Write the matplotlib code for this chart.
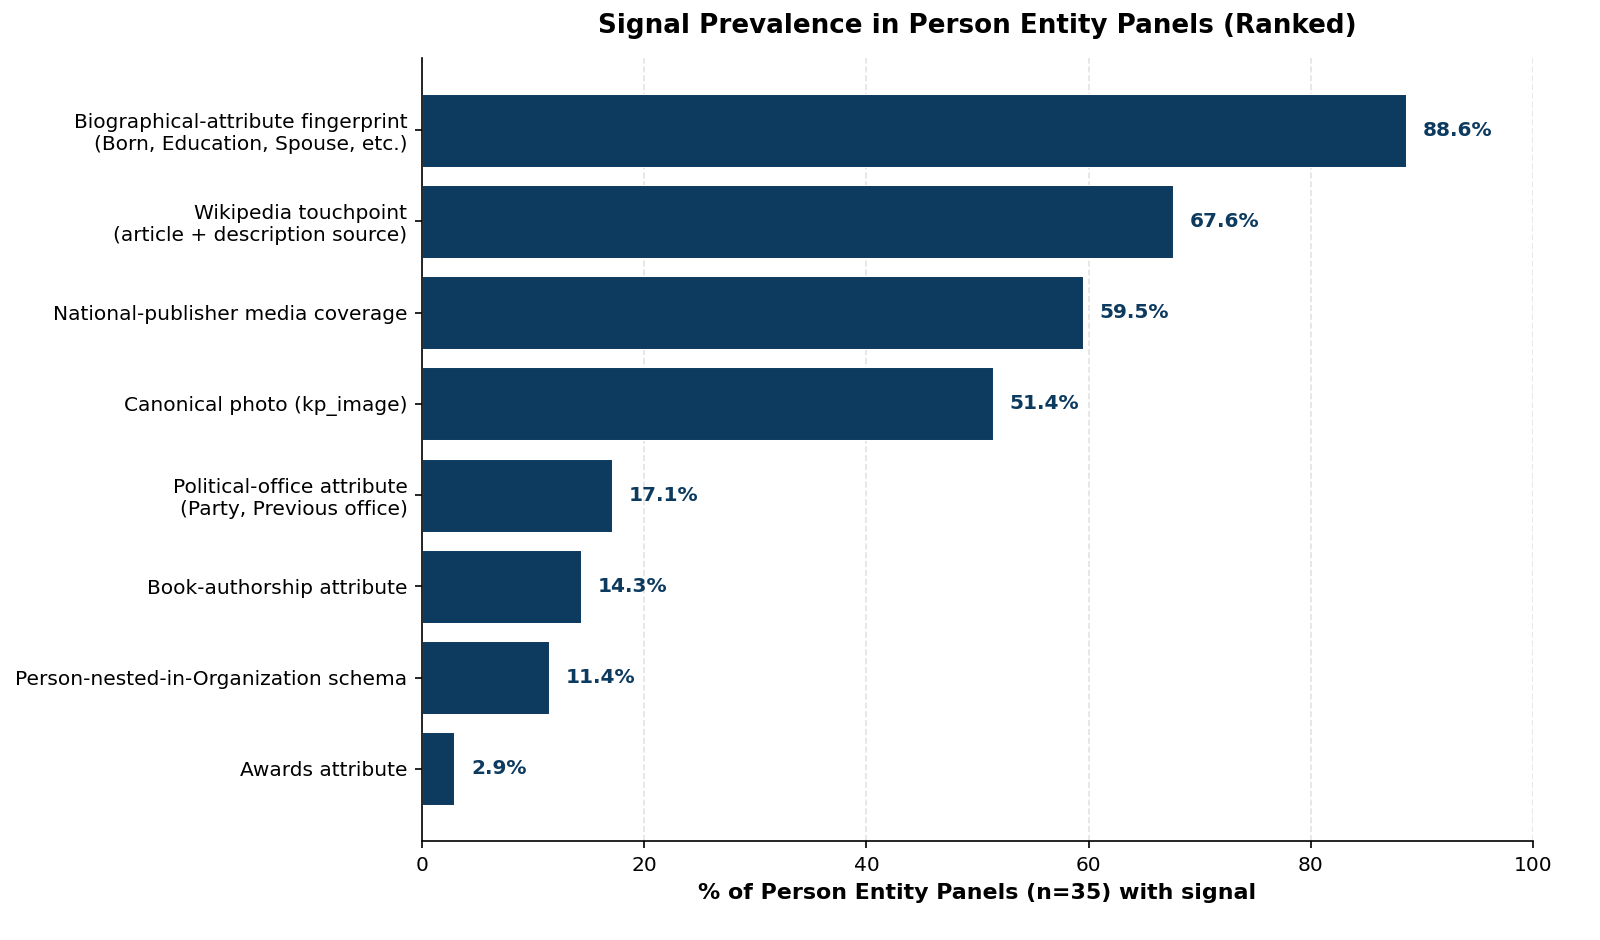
import matplotlib
matplotlib.use("Agg")
import matplotlib.pyplot as plt

categories = [
    "Biographical-attribute fingerprint\n(Born, Education, Spouse, etc.)",
    "Wikipedia touchpoint\n(article + description source)",
    "National-publisher media coverage",
    "Canonical photo (kp_image)",
    "Political-office attribute\n(Party, Previous office)",
    "Book-authorship attribute",
    "Person-nested-in-Organization schema",
    "Awards attribute",
]
values = [88.6, 67.6, 59.5, 51.4, 17.1, 14.3, 11.4, 2.9]

color = "#0d3a5f"
s = 0.965

fig = plt.figure(figsize=(1600/150, 940/150), dpi=150)
ax = fig.add_axes([422/1600, 1 - 841/940, (1533-422)/1600, (841-58)/940])

ypos = list(range(len(categories)))
ax.barh(ypos, values, height=0.8, color=color, edgecolor="white", linewidth=0.5, zorder=2)
ax.invert_yaxis()
ax.set_yticks(ypos)
ax.set_yticklabels(categories, fontsize=10*s)
ax.set_xlim(0, 100)
ax.tick_params(axis="x", labelsize=10*s)

for y, v in zip(ypos, values):
    ax.text(v + 1.5, y, f"{v:.1f}%", va="center", ha="left",
            fontsize=10*s, fontweight="bold", color=color)

ax.grid(axis="x", linestyle="--", color="#e3e3e3", linewidth=0.8, zorder=0)
ax.set_axisbelow(True)
ax.spines["top"].set_visible(False)
ax.spines["right"].set_visible(False)

ax.set_xlabel("% of Person Entity Panels (n=35) with signal", fontsize=11*s, fontweight="bold")
ax.set_title("Signal Prevalence in Person Entity Panels (Ranked)", fontsize=13*s, fontweight="bold", pad=12)

fig.savefig("out.png", dpi=150)
